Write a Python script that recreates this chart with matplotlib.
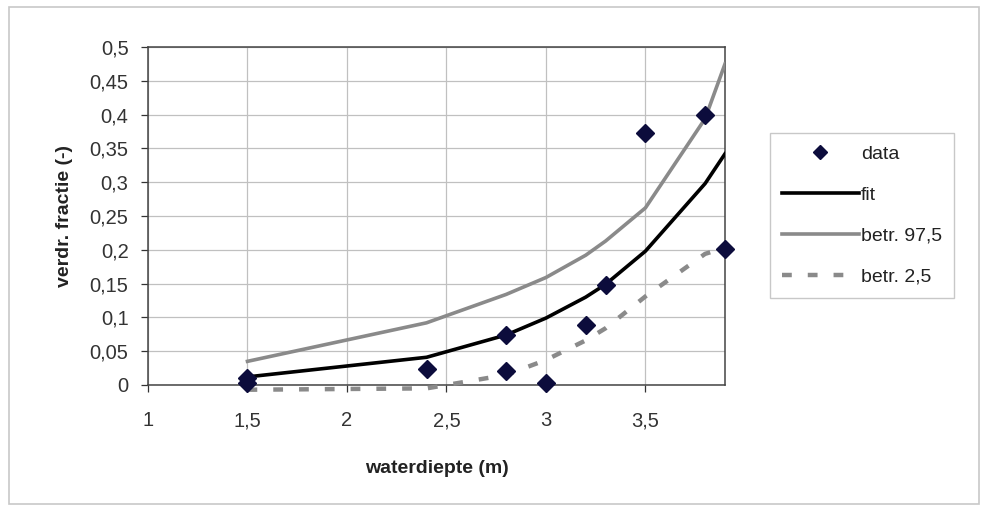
import matplotlib
matplotlib.use("Agg")
import matplotlib.pyplot as plt
from matplotlib.patches import Rectangle

plt.rcParams['font.family'] = ['Liberation Sans', 'DejaVu Sans']

# data points
data_x = [1.5, 1.5, 2.4, 2.8, 2.8, 3.0, 3.2, 3.3, 3.5, 3.8, 3.9]
data_y = [0.010, 0.003, 0.024, 0.074, 0.021, 0.003, 0.089, 0.148, 0.373, 0.400, 0.201]

# curves
curve_x = [1.5, 2.4, 2.8, 3.0, 3.2, 3.3, 3.5, 3.8, 3.9]
fit_y = [0.012, 0.041, 0.074, 0.099, 0.130, 0.149, 0.198, 0.298, 0.342]
upper_y = [0.035, 0.092, 0.134, 0.159, 0.192, 0.213, 0.262, 0.394, 0.475]
lower_y = [-0.007, -0.005, 0.015, 0.037, 0.066, 0.084, 0.131, 0.194, 0.203]

x_ticks = [1, 1.5, 2, 2.5, 3, 3.5]
x_ticklabels = ['1', '1,5', '2', '2,5', '3', '3,5']
y_ticks = [0, 0.05, 0.1, 0.15, 0.2, 0.25, 0.3, 0.35, 0.4, 0.45, 0.5]
y_ticklabels = ['0', '0,05', '0,1', '0,15', '0,2', '0,25', '0,3', '0,35', '0,4', '0,45', '0,5']

W, H = 981, 507
fig = plt.figure(figsize=(W / 100, H / 100), dpi=100)
fig.patch.set_facecolor('white')

# outer chart border
fig.patches.append(Rectangle((9 / W, 3 / H), (W - 11) / W, (H - 10) / H,
                             transform=fig.transFigure, fill=False,
                             edgecolor='#c8c8c8', linewidth=1.2))

ax = fig.add_axes([148 / W, (H - 385) / H, (725 - 148) / W, (385 - 47) / H])
ax.set_xlim(1, 3.9)
ax.set_ylim(0, 0.5)

ax.grid(True, color='#c0c0c0', linewidth=0.9)
ax.set_axisbelow(True)

ax.plot(data_x, data_y, linestyle='none', marker='D', markersize=9.5,
        color='#0c0c3c', label='data', zorder=5, clip_on=False)
ax.plot(curve_x, fit_y, color='black', linewidth=2.6, label='fit', zorder=4)
ax.plot(curve_x, upper_y, color='#8a8a8a', linewidth=2.6, label='betr. 97,5', zorder=3)
ax.plot(curve_x, lower_y, color='#8a8a8a', linewidth=3.2, linestyle=(0, (2.2, 3.6)),
        label='betr. 2,5', zorder=3, clip_on=False)

ax.set_xticks(x_ticks)
ax.set_xticklabels(x_ticklabels)
ax.set_yticks(y_ticks)
ax.set_yticklabels(y_ticklabels)
ax.tick_params(axis='both', labelsize=14.5, colors='#333333', length=5,
               direction='out', width=0.9)
ax.tick_params(axis='x', pad=14)
ax.tick_params(axis='y', pad=9)
for s in ax.spines.values():
    s.set_color('#444444')
    s.set_linewidth(1.1)

ax.set_xlabel('waterdiepte (m)', fontsize=14, fontweight='bold', color='#222222', labelpad=21)
ax.set_ylabel('verdr. fractie (-)', fontsize=14, fontweight='bold', color='#222222', labelpad=12)

leg = fig.legend(loc='upper left', bbox_to_anchor=(770 / W, (H - 133) / H),
                 bbox_transform=fig.transFigure, frameon=True, fancybox=False,
                 fontsize=14, handlelength=3.95, handletextpad=0.1,
                 labelspacing=1.2, borderpad=0.62, borderaxespad=0,
                 markerscale=0.75)
leg.get_frame().set_edgecolor('#bbbbbb')
leg.get_frame().set_linewidth(1.0)
for t in leg.get_texts():
    t.set_color('#222222')

fig.savefig('out.png', dpi=100)
